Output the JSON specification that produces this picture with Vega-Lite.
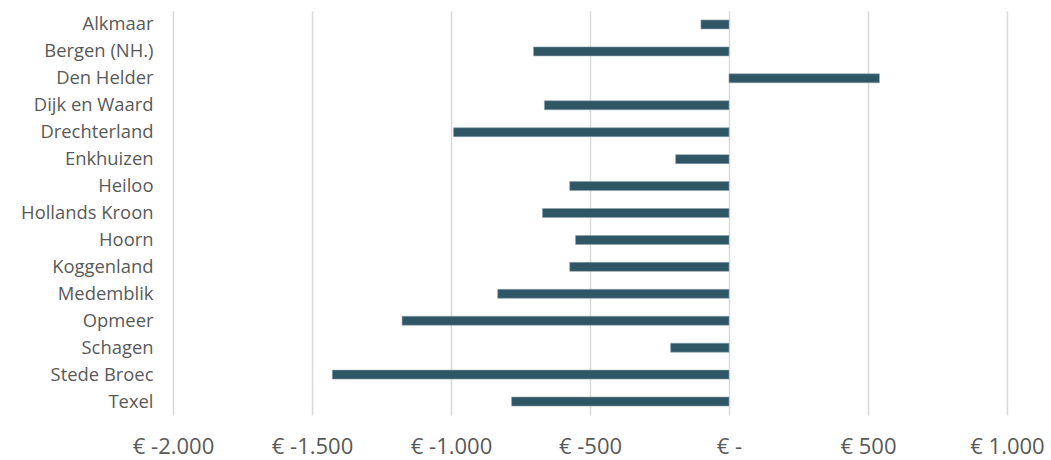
{
  "$schema": "https://vega.github.io/schema/vega-lite/v6.json",
  "width": 834,
  "height": 404,
  "autosize": {"type": "none"},
  "padding": {"left": 173, "top": 11, "right": 44, "bottom": 45},
  "background": "white",
  "config": {"view": {"stroke": null}, "font": "Open Sans"},
  "data": {"values": [
    {"gemeente": "Alkmaar", "waarde": -101},
    {"gemeente": "Bergen (NH.)", "waarde": -703},
    {"gemeente": "Den Helder", "waarde": 541},
    {"gemeente": "Dijk en Waard", "waarde": -664},
    {"gemeente": "Drechterland", "waarde": -991},
    {"gemeente": "Enkhuizen", "waarde": -192},
    {"gemeente": "Heiloo", "waarde": -573},
    {"gemeente": "Hollands Kroon", "waarde": -671},
    {"gemeente": "Hoorn", "waarde": -552},
    {"gemeente": "Koggenland", "waarde": -573},
    {"gemeente": "Medemblik", "waarde": -832},
    {"gemeente": "Opmeer", "waarde": -1176},
    {"gemeente": "Schagen", "waarde": -210},
    {"gemeente": "Stede Broec", "waarde": -1427},
    {"gemeente": "Texel", "waarde": -782}
  ]},
  "mark": {"type": "bar", "size": 9, "color": "#2f5665", "stroke": "#8ea3ad", "strokeWidth": 0.6},
  "encoding": {
    "y": {
      "field": "gemeente", "type": "nominal", "sort": null, "title": null,
      "axis": {"domain": false, "ticks": false, "labelFontSize": 18.4, "labelColor": "#595959", "labelPadding": 20, "labelFont": "Open Sans"}
    },
    "x": {
      "field": "waarde", "type": "quantitative", "title": null,
      "scale": {"domain": [-2000, 1000], "nice": false},
      "axis": {
        "values": [-2000, -1500, -1000, -500, 0, 500, 1000],
        "domain": false, "ticks": false,
        "grid": true, "gridColor": "#d9d9d9", "gridWidth": 1.5,
        "labelFlush": false, "labelBound": false, "labelOverlap": false,
        "labelFontSize": 22, "labelColor": "#595959", "labelPadding": 21, "labelFont": "Open Sans",
        "labelExpr": "datum.value == 0 ? '€ -' : '€ ' + (datum.value < 0 ? '-' : '') + replace(format(abs(datum.value), ','), ',', '.')"
      }
    }
  }
}
